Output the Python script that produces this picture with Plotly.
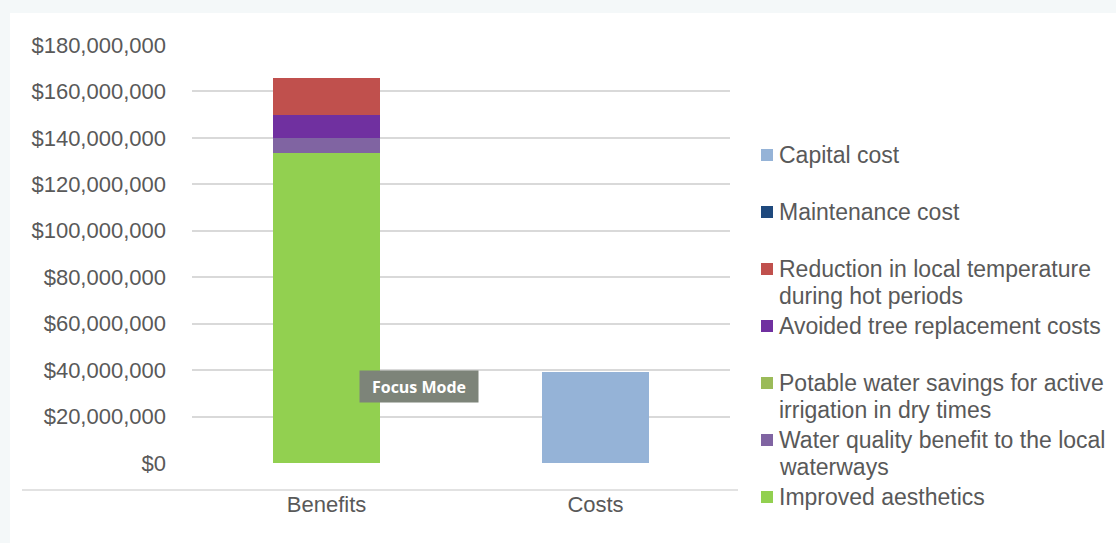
import plotly.graph_objects as go

categories = ["Benefits", "Costs"]
series_names = [
    "Improved aesthetics",
    "Water quality benefit to the local waterways",
    "Potable water savings for active irrigation in dry times",
    "Avoided tree replacement costs",
    "Reduction in local temperature during hot periods",
    "Capital cost",
    "Maintenance cost",
]
benefits_values = [133_600_000, 6_400_000, 0, 10_000_000, 15_700_000, 0, 0]
costs_values = [0, 0, 0, 0, 0, 39_300_000, 0]
series_colors = ["#92d050", "#8064a2", "#9bbb59", "#7030a0", "#c0504d", "#95b3d7", "#1f497d"]

legend_order = [
    "Capital cost",
    "Maintenance cost",
    "Reduction in local temperature<br>during hot periods",
    "Avoided tree replacement costs",
    "Potable water savings for active<br>irrigation in dry times",
    "Water quality benefit to the local<br>waterways",
    "Improved aesthetics",
]
legend_keys = [5, 6, 4, 3, 2, 1, 0]

y_ticks = list(range(0, 180_000_001, 20_000_000))

W, H = 1116, 543
L, R, T, B = 192, 730, 45, 463
pw, ph = R - L, B - T

def px(x):
    return (x - L) / pw

def py(y):
    return (B - y) / ph

fig = go.Figure()
for i, name in enumerate(series_names):
    fig.add_trace(go.Bar(
        x=categories,
        y=[benefits_values[i], costs_values[i]],
        name=name,
        marker=dict(color=series_colors[i], line=dict(width=0)),
        showlegend=False,
        width=0.4,
    ))

font_fam = "Liberation Sans, Arial, sans-serif"
text_col = "#595959"

shapes = [
    dict(type="rect", xref="paper", yref="paper", x0=px(10), x1=px(W + 20), y0=py(H + 20), y1=py(13),
         fillcolor="white", line=dict(width=0), layer="below"),
    dict(type="line", xref="paper", yref="paper", x0=px(22), x1=px(738), y0=py(490), y1=py(490),
         line=dict(color="#d9d9d9", width=1.5)),
]
annotations = []
leg_y0, leg_step, line_h = 155, 57, 27
for k, (label, idx) in enumerate(zip(legend_order, legend_keys)):
    yc = leg_y0 + k * leg_step
    shapes.append(dict(type="rect", xref="paper", yref="paper",
                       x0=px(761), x1=px(773), y0=py(yc + 6), y1=py(yc - 6),
                       fillcolor=series_colors[idx], line=dict(width=0)))
    for j, part in enumerate(label.split("<br>")):
        annotations.append(dict(xref="paper", yref="paper", x=px(777), y=py(yc + j * line_h),
                                xanchor="left", yanchor="middle", align="left", showarrow=False,
                                text=part, font=dict(family=font_fam, size=23, color=text_col)))

annotations.append(dict(xref="paper", yref="paper", x=px(419), y=py(386.5), xanchor="center", yanchor="middle",
                        showarrow=False, text="<b>Focus Mode</b>", bgcolor="#7d8479",
                        font=dict(family="Open Sans, sans-serif", size=16, color="white"),
                        width=112, height=25, borderpad=3))

fig.update_layout(
    width=W, height=H,
    margin=dict(l=L, r=W - R, t=T, b=H - B, pad=0),
    paper_bgcolor="#f4f8f9",
    plot_bgcolor="white",
    barmode="stack",
    showlegend=False,
    shapes=shapes,
    annotations=annotations,
    font=dict(family=font_fam, size=22, color=text_col),
    xaxis=dict(showgrid=False, showline=False, zeroline=False, ticks="",
               ticklabelstandoff=26, tickfont=dict(size=22, color=text_col)),
    yaxis=dict(range=[0, 180_000_000], tickvals=y_ticks, tickformat="$,.0f",
               showgrid=True, gridcolor="#d9d9d9", gridwidth=1.5, zeroline=False,
               showline=False, ticks="", ticklabelstandoff=25,
               tickfont=dict(size=22, color=text_col)),
)

fig.write_html("out.html")
